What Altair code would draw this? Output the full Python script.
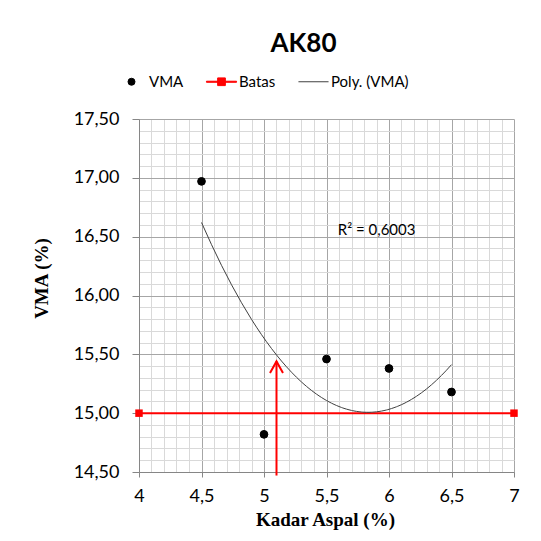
import altair as alt
import pandas as pd
import numpy as np

# ---- data ----
kadar = [4.5, 5.0, 5.5, 6.0, 6.5]
vma = [16.97, 14.82, 15.46, 15.38, 15.18]
batas_x = [4.0, 7.0]
batas_y = [15.0, 15.0]
arrow_x = [5.1]
arrow_y0 = [14.47]
arrow_y1 = [15.44]
series = ["VMA", "Batas", "Poly. (VMA)"]
r2_text = ["R\u00b2 = 0,6003"]
r2_x = [5.59]
r2_y = [16.56]
x_ticks = [round(float(v), 1) for v in np.arange(4.0, 7.0001, 0.1)]
y_ticks = [round(float(v), 1) for v in np.arange(14.5, 17.5001, 0.1)]

pts = pd.DataFrame({"x": kadar, "y": vma, "series": ["VMA"] * len(kadar)})
batas = pd.DataFrame({"x": batas_x, "y": batas_y})
arrow = pd.DataFrame({"x": arrow_x, "y": arrow_y0, "y2": arrow_y1})
r2 = pd.DataFrame({"x": r2_x, "y": r2_y, "t": r2_text})

major = "abs(datum.value*2 - round(datum.value*2)) < 0.01"
grid_color = {"condition": {"test": major, "value": "#a6a6a6"}, "value": "#d9d9d9"}
tick_op = {"condition": {"test": major, "value": 1}, "value": 0}

x_axis = alt.Axis(
    values=x_ticks, labelExpr=f"({major}) ? replace(toString(datum.value), '.', ',') : ''",
    gridColor=grid_color, tickOpacity=tick_op, tickSize=5, tickColor="#868686",
    domainColor="#868686", labelFont="Lato", labelFontSize=18, labelColor="#000",
    labelPadding=10, labelOverlap=False, labelFlush=False,
    title="Kadar Aspal (%)", titleFont="Liberation Serif", titleFontSize=19,
    titleFontWeight="bold", titleColor="#000", titleX=186, titleY=47,
    titleBaseline="middle", titleAlign="center",
)
y_axis = alt.Axis(
    values=y_ticks, labelExpr=f"({major}) ? replace(format(datum.value, '.2f'), '.', ',') : ''",
    gridColor=grid_color, tickOpacity=tick_op, tickSize=7, tickColor="#868686",
    domainColor="#868686", labelFont="Lato", labelFontSize=18, labelColor="#000",
    labelPadding=13, labelOverlap=False, labelFlush=False,
    title="VMA (%)", titleFont="Liberation Serif", titleFontSize=19,
    titleFontWeight="bold", titleColor="#000", titleX=-98, titleY=159,
    titleBaseline="middle", titleAlign="center", titleAngle=-90,
)
xs = alt.Scale(domain=[4, 7], nice=False, zero=False)
ys = alt.Scale(domain=[14.5, 17.5], nice=False, zero=False)
X = alt.X("x:Q", scale=xs, axis=x_axis)
Y = alt.Y("y:Q", scale=ys, axis=y_axis)

shapes = [
    "circle",
    "M-4.3,-0.15H4.3V0.15H-4.3Z M-1.1,-1.1H1.1V1.1H-1.1Z",
    "M-4.3,0H4.3",
]
colors = ["#000000", "#ff0000", "#404040"]
leg = alt.Legend(
    orient="none", legendX=-15, legendY=-45, direction="horizontal", title=None,
    symbolSize=49, symbolStrokeWidth=1, labelFont="Lato", labelFontSize=15,
    labelColor="#000", labelOffset=10, columnPadding=20, padding=0,
)

batas_layer = alt.Chart(batas).mark_line(
    color="#ff0000", strokeWidth=2,
    point=alt.OverlayMarkDef(shape="square", filled=True, size=56, color="#ff0000", opacity=1),
).encode(x=X, y=Y)

poly_layer = alt.Chart(pts).transform_regression(
    "x", "y", method="poly", order=2, extent=[4.5, 6.5]
).mark_line(color="#404040", strokeWidth=1).encode(x=X, y=Y)

point_layer = alt.Chart(pts).mark_point(filled=True, size=60, strokeWidth=1, opacity=1).encode(
    x=X, y=Y,
    fill=alt.Fill("series:N", scale=alt.Scale(domain=series, range=colors), legend=leg),
    stroke=alt.Stroke("series:N", scale=alt.Scale(domain=series, range=colors), legend=leg),
    shape=alt.Shape("series:N", scale=alt.Scale(domain=series, range=shapes), legend=leg),
)

arrow_line = alt.Chart(arrow).mark_rule(color="#ff0000", strokeWidth=2).encode(
    x=X, y=Y, y2="y2:Q"
)
arrow_head = alt.Chart(arrow).mark_point(
    shape="M-1,1.8L0,0L1,1.8", filled=False, color="#ff0000", strokeWidth=2, size=169, opacity=1
).encode(x=X, y=alt.Y("y2:Q", scale=ys, axis=y_axis))

r2_layer = alt.Chart(r2).mark_text(
    align="left", baseline="middle", font="Lato", fontSize=15, color="#000"
).encode(x=X, y=Y, text="t:N")

chart = alt.layer(
    batas_layer, poly_layer, point_layer, arrow_line, arrow_head, r2_layer
).properties(
    width=375, height=353,
    autosize=alt.AutoSizeParams(type="none"),
    padding={"left": 131, "top": 111, "right": 19, "bottom": 61},
    title=alt.TitleParams("AK80", font="Lato", fontSize=26, fontWeight="bold",
                          anchor="middle", dx=-23, offset=17, color="#000"),
    background="white",
).configure_view(stroke=None)

chart.save("out.html", embed_options={"renderer": "svg", "actions": False})
